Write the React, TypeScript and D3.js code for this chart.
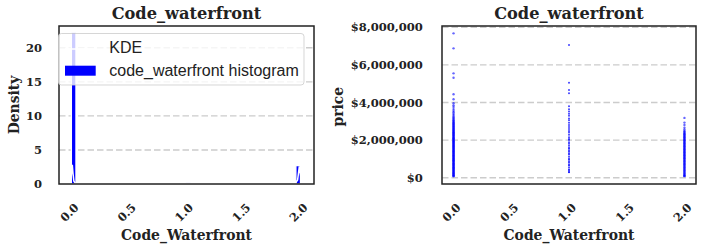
import React from 'react';
import * as d3 from 'd3';

// ---- data ----
const histBinStart = [0.0, 1.0, 1.96];
const histBinWidth = 0.04;
const histDensity = [22.2, 0.17, 2.7];
const kdeX = [-0.108, -0.02, -0.005, 0.003, 0.008, 0.014, 0.022, 0.04, 0.96, 1.0, 1.04, 1.95, 1.975, 1.99, 2.005, 2.03, 2.118];
const kdeY = [0, 0, 0.3, 2.0, 2.8, 1.6, 0.4, 0, 0, 0.02, 0, 0, 0.6, 2.6, 0.8, 0, 0];
const densityTicks = [0, 5, 10, 15, 20];
const codeTicks = [0, 0.5, 1, 1.5, 2];
const priceTicks = [0, 2000000, 4000000, 6000000, 8000000];
const priceTickLabels = ['$0', '$2,000,000', '$4,000,000', '$6,000,000', '$8,000,000'];
const codeTickLabels = ['0.0', '0.5', '1.0', '1.5', '2.0'];

// prices in thousands of dollars, per waterfront code
const price0 = [7680, 6880, 5550, 5320, 4440, 4170, 3960, 3850, 3760, 3650, 3560, 3480, 3400, 3330, 3260, 3200, 3150, 3100,
  3050, 3012, 2968, 2941, 2897, 2863, 2829, 2791, 2752, 2718, 2684, 2650, 2613, 2577, 2542, 2508, 2480, 2451, 2419, 2388,
  2362, 2329, 2301, 2268, 2240, 2212, 2179, 2150, 2118, 2093, 2061, 2030, 2002, 1968, 1941, 1909, 1883, 1852, 1818, 1790,
  1762, 1731, 1698, 1672, 1639, 1611, 1583, 1548, 1521, 1492, 1459, 1433, 1401, 1372, 1339, 1312, 1281, 1248, 1222, 1189,
  1161, 1128, 1102, 1069, 1041, 1012, 981, 948, 922, 891, 859, 832, 801, 772, 738, 712, 679, 652, 621, 588, 562, 531, 499,
  472, 441, 409, 382, 351, 322, 289, 262, 231, 199, 172, 141, 112, 95, 80];
const price1 = [7060, 5050, 4660, 4490, 3800, 3640, 3520, 3400, 3300, 3150, 3050, 2920, 2800, 2700, 2590, 2480, 2400,
  2280, 2150, 2060, 2000, 1880, 1800, 1700, 1600, 1540, 1450, 1380, 1290, 1230, 1120, 1010, 960, 860, 800, 690, 650,
  540, 440, 390, 300, 285];
const price2 = [3180, 2930, 2800, 2660, 2560, 2490, 2440, 2390, 2351, 2310, 2272, 2230, 2188, 2151, 2109, 2072, 2031, 1992,
  1950, 1912, 1871, 1833, 1790, 1752, 1711, 1672, 1630, 1591, 1552, 1511, 1471, 1432, 1390, 1352, 1311, 1272, 1231, 1192,
  1151, 1112, 1071, 1032, 991, 952, 911, 872, 831, 792, 751, 712, 671, 632, 591, 552, 511, 472, 431, 392, 351, 312, 271,
  232, 191, 152, 118, 95, 82];

const serif = "'DejaVu Serif', serif";
const sans = "'Liberation Sans', Arial, sans-serif";
const ink = '#222222';
const gridColor = '#cccccc';

export default function App() {
  // left panel
  const L = { x0: 59, x1: 314, y0: 26, y1: 184 };
  const xL = d3.scaleLinear().domain([-0.108, 2.118]).range([L.x0, L.x1]);
  const yL = d3.scaleLinear().domain([0, 23.2]).range([L.y1, L.y0]);
  // right panel
  const R = { x0: 442, x1: 696, y0: 26, y1: 184 };
  const xR = d3.scaleLinear().domain([-0.1, 2.1]).range([R.x0, R.x1]);
  const yR = d3.scaleLinear().domain([-335000, 8070000]).range([R.y1, R.y0]);

  const kdeLine = d3.line<number>().x((_, i) => xL(kdeX[i])).y((d) => yL(d))(kdeY) || '';

  const scatter = [
    { code: 0, vals: price0 },
    { code: 1, vals: price1 },
    { code: 2, vals: price2 },
  ];

  const xTickLabels = (sx: d3.ScaleLinear<number, number>, key: string) =>
    codeTicks.map((t, i) => (
      <text key={key + i} transform={`translate(${sx(t) - 2},212.5) rotate(-45)`} textAnchor="middle" dy="0.35em"
        fontFamily={serif} fontWeight="bold" fontSize={11.5} fill={ink}>{codeTickLabels[i]}</text>
    ));

  return (
    <svg width={708} height={250} style={{ position: 'absolute', left: 0, top: 0, background: '#fff' }}>
      <rect x={0} y={0} width={708} height={250} fill="#fff" />
      {/* ---------- left panel ---------- */}
      {densityTicks.filter((t) => t > 0).map((t) => (
        <line key={'gl' + t} x1={L.x0} x2={L.x1} y1={yL(t)} y2={yL(t)} stroke={gridColor} strokeWidth={1.4} strokeDasharray="6.5,3" />
      ))}
      {histBinStart.map((b, i) => (
        <rect key={'bar' + i} x={xL(b)} y={yL(histDensity[i])} width={xL(b + histBinWidth) - xL(b)}
          height={yL(0) - yL(histDensity[i])} fill="#0000ff" stroke="#ffffff" strokeWidth={1.3} />
      ))}
      <path d={kdeLine} fill="none" stroke="#ffffff" strokeWidth={1.5} />
      <rect x={L.x0} y={L.y0} width={L.x1 - L.x0} height={L.y1 - L.y0} fill="none" stroke={ink} strokeWidth={1.5} />
      {densityTicks.map((t) => (
        <text key={'yl' + t} x={42} y={yL(t)} dy="0.35em" textAnchor="end" fontFamily={serif} fontWeight="bold" fontSize={11.5} fill={ink}>{t}</text>
      ))}
      {xTickLabels(xL, 'xl')}
      <text x={(L.x0 + L.x1) / 2} y={19} textAnchor="middle" fontFamily={serif} fontWeight="bold" fontSize={16.2} fill={ink}>Code_waterfront</text>
      <text x={(L.x0 + L.x1) / 2} y={240} textAnchor="middle" fontFamily={serif} fontWeight="bold" fontSize={13.9} fill={ink}>Code_Waterfront</text>
      <text transform={`translate(18.5,105) rotate(-90)`} textAnchor="middle" fontFamily={serif} fontWeight="bold" fontSize={13.9} fill={ink}>Density</text>
      {/* legend */}
      <rect x={58.5} y={33.5} width={245.5} height={51.5} rx={3} fill="#ffffff" fillOpacity={0.8} stroke="#cccccc" strokeOpacity={0.8} strokeWidth={1} />
      <line x1={65} x2={96} y1={49} y2={49} stroke="#ffffff" strokeWidth={1.5} />
      <text x={109.3} y={53.3} fontFamily={sans} fontSize={16} fill={ink}>KDE</text>
      <rect x={65} y={65.7} width={30.7} height={10} fill="#0000ff" />
      <text x={109.3} y={76} fontFamily={sans} fontSize={16} fill={ink}>code_waterfront histogram</text>

      {/* ---------- right panel ---------- */}
      {priceTicks.map((t) => (
        <line key={'gr' + t} x1={R.x0} x2={R.x1} y1={yR(t)} y2={yR(t)} stroke={gridColor} strokeWidth={1.4} strokeDasharray="6.5,3" />
      ))}
      {scatter.map((s) => s.vals.map((v, i) => (
        <circle key={'p' + s.code + '-' + i} cx={xR(s.code)} cy={yR(v * 1000)} r={s.code === 1 ? 1.0 : 1.2} fill="#0000ff"
          fillOpacity={s.code === 1 ? 0.75 : 0.6} />
      )))}
      <rect x={R.x0} y={R.y0} width={R.x1 - R.x0} height={R.y1 - R.y0} fill="none" stroke={ink} strokeWidth={1.5} />
      {priceTicks.map((t, i) => (
        <text key={'yr' + t} x={422.7} y={yR(t)} dy="0.35em" textAnchor="end" fontFamily={serif} fontWeight="bold" fontSize={11.5} fill={ink}>{priceTickLabels[i]}</text>
      ))}
      {xTickLabels(xR, 'xr')}
      <text x={(R.x0 + R.x1) / 2} y={19} textAnchor="middle" fontFamily={serif} fontWeight="bold" fontSize={16.2} fill={ink}>Code_waterfront</text>
      <text x={(R.x0 + R.x1) / 2} y={240} textAnchor="middle" fontFamily={serif} fontWeight="bold" fontSize={13.9} fill={ink}>Code_Waterfront</text>
      <text transform={`translate(343,106.7) rotate(-90)`} textAnchor="middle" fontFamily={serif} fontWeight="bold" fontSize={13.9} fill={ink}>price</text>
    </svg>
  );
}
